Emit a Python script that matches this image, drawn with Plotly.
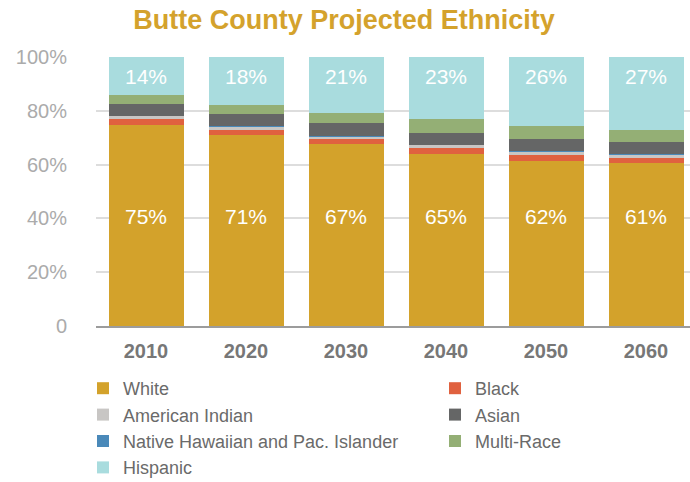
import plotly.graph_objects as go

years = ["2010", "2020", "2030", "2040", "2050", "2060"]

white = [74.9, 71.0, 67.5, 64.0, 61.5, 60.5]
black = [2.1, 1.9, 1.9, 2.2, 2.2, 1.9]
american_indian = [1.1, 1.2, 1.1, 1.1, 1.1, 1.3]
native_hawaiian = [0.1, 0.1, 0.1, 0.1, 0.1, 0.1]
asian = [4.4, 4.5, 4.8, 4.5, 4.5, 4.5]
multi_race = [3.3, 3.3, 3.7, 5.2, 4.8, 4.5]
hispanic = [14.1, 18.0, 20.9, 23.2, 25.8, 27.2]

white_labels = ["75%", "71%", "67%", "65%", "62%", "61%"]
hispanic_labels = ["14%", "18%", "21%", "23%", "26%", "27%"]

y_tick_vals = [0, 20, 40, 60, 80, 100]
y_tick_text = ["0", "20%", "40%", "60%", "80%", "100%"]

FONT = "Liberation Sans, Arial, Helvetica, sans-serif"

# name, values, colour, legend, rank within legend
series = [
    ("White", white, "#D3A22B", "legend", 1),
    ("Black", black, "#E0613F", "legend2", 1),
    ("American Indian", american_indian, "#C8C6C4", "legend", 2),
    ("Native Hawaiian and Pac. Islander", native_hawaiian, "#4A89B9", "legend", 3),
    ("Asian", asian, "#656666", "legend2", 2),
    ("Multi-Race", multi_race, "#94AF75", "legend2", 3),
    ("Hispanic", hispanic, "#A9DCDE", "legend", 4),
]

fig = go.Figure()
for name, vals, color, leg, rank in series:
    fig.add_trace(go.Bar(
        x=years, y=vals, name=name, legend=leg, legendrank=rank,
        marker=dict(color=color, line=dict(width=0)),
        hoverinfo="x+y+name",
    ))

# in-bar value labels
fig.add_trace(go.Scatter(
    x=years, y=[40] * len(years), mode="text", text=white_labels,
    textposition="middle center",
    textfont=dict(family=FONT, size=21, color="white"),
    showlegend=False, hoverinfo="skip",
))
fig.add_trace(go.Scatter(
    x=years, y=[92] * len(years), mode="text", text=hispanic_labels,
    textposition="middle center",
    textfont=dict(family=FONT, size=21, color="white"),
    showlegend=False, hoverinfo="skip",
))

legend_common = dict(
    orientation="v", traceorder="normal",
    xref="container", yref="container",
    xanchor="left", yanchor="top",
    y=1 - 370 / 482,
    font=dict(family=FONT, size=18, color="#6A6A6A"),
    itemclick=False, bgcolor="rgba(0,0,0,0)",
)

fig.update_layout(
    width=690, height=482,
    barmode="stack", bargap=0.25,
    paper_bgcolor="white", plot_bgcolor="white",
    margin=dict(l=96, r=0, t=57, b=156, autoexpand=False),
    font=dict(family=FONT),
    title=dict(
        text="<b>Butte County Projected Ethnicity</b>",
        font=dict(family=FONT, size=27, color="#D4A22C"),
        x=344 / 690, xanchor="center", xref="container",
        y=1 - 20 / 482, yanchor="middle", yref="container",
    ),
    xaxis=dict(
        type="category", range=[-0.5, 5.44], automargin=False,
        showline=True, linecolor="#9C9C9C", linewidth=2,
        showgrid=False, ticks="", tickangle=0,
        tickfont=dict(family=FONT, size=20, color="#777777", weight="bold"),
        ticklabelstandoff=6,
    ),
    yaxis=dict(
        range=[0, 100], tickvals=y_tick_vals, ticktext=y_tick_text,
        automargin=False,
        showgrid=True, gridcolor="#DDDDDD", gridwidth=2,
        zeroline=False, showline=False, ticks="",
        tickfont=dict(family=FONT, size=20, color="#ABABAB"),
        ticklabelstandoff=28,
    ),
    legend=dict(x=83 / 690, **legend_common),
    legend2=dict(x=435 / 690, **legend_common),
    showlegend=True,
)

fig.write_html("out.html")
